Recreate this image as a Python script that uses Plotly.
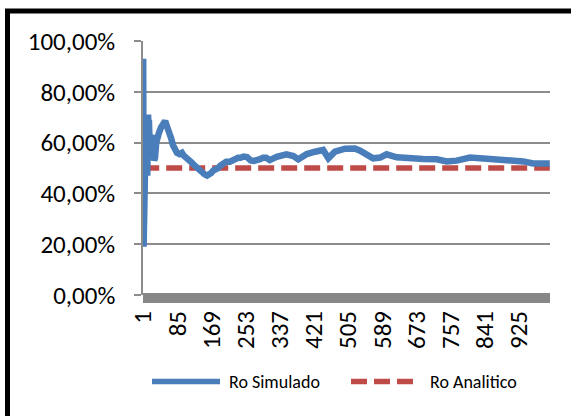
import plotly.graph_objects as go

# Simulated rho: running estimate sampled at selected iterations
sim_idx = [1, 2, 3, 4, 5, 6, 7, 8, 9, 10, 11, 12, 13, 14, 15, 16, 17, 18, 20, 22,
           24, 26, 28, 30, 33, 36, 40, 45, 50, 55, 58, 62, 66, 70, 74, 78, 84, 90,
           96, 100, 104, 111, 116, 121, 127, 133, 140, 146, 152, 158, 163, 168,
           173, 180, 185, 191, 197, 205, 214, 220, 227, 234, 240, 248, 256, 265,
           273, 281, 288, 295, 303, 312, 329, 353, 370, 382, 403, 423, 443, 456,
           472, 497, 521, 534, 550, 566, 583, 599, 624, 656, 689, 722, 747, 771,
           804, 837, 869, 902, 935, 959, 980, 1000]
sim_val = [0.93, 0.19, 0.50, 0.60, 0.45, 0.64, 0.55, 0.70, 0.60, 0.66, 0.47, 0.62,
           0.71, 0.64, 0.69, 0.58, 0.66, 0.54, 0.62, 0.63, 0.60, 0.55, 0.53, 0.54,
           0.60, 0.63, 0.64, 0.66, 0.68, 0.685, 0.67, 0.655, 0.63, 0.615, 0.59,
           0.575, 0.56, 0.555, 0.56, 0.55, 0.545, 0.54, 0.53, 0.52, 0.51, 0.50,
           0.49, 0.48, 0.475, 0.47, 0.472, 0.48, 0.49, 0.495, 0.50, 0.51, 0.52,
           0.525, 0.525, 0.53, 0.54, 0.54, 0.54, 0.545, 0.543, 0.53, 0.528, 0.53,
           0.535, 0.54, 0.54, 0.531, 0.544, 0.554, 0.547, 0.534, 0.555, 0.564,
           0.571, 0.538, 0.564, 0.576, 0.577, 0.568, 0.551, 0.538, 0.541, 0.554,
           0.542, 0.537, 0.535, 0.534, 0.526, 0.529, 0.541, 0.537, 0.535, 0.533,
           0.526, 0.518, 0.518, 0.518]

# Analytic rho (constant)
ana_idx = [1, 1000]
ana_val = [0.50, 0.50]

n_cat = 1000
tick_cats = [1, 85, 169, 253, 337, 421, 505, 589, 673, 757, 841, 925]
y_ticks = [0, 0.2, 0.4, 0.6, 0.8, 1.0]

series_names = ["Ro Simulado", "Ro Analitico"]
blue = "#4a7ebb"
red = "#be4b48"
grid = "#8c8c8c"
font_fam = "Calibri, Carlito, Lato, sans-serif"

fig = go.Figure()
fig.add_trace(go.Scatter(x=ana_idx, y=ana_val, mode="lines", name=series_names[1],
                         line=dict(color=red, width=5.5, dash="16px,7px"),
                         showlegend=False, hoverinfo="skip"))
fig.add_trace(go.Scatter(x=sim_idx, y=sim_val, mode="lines", name=series_names[0],
                         line=dict(color=blue, width=6.5),
                         showlegend=False, hoverinfo="skip"))

W, H = 571, 416
L, R, T, B = 143, 21, 41, 121
pw, ph = W - L - R, H - T - B


def px(xp):
    return (xp - L) / pw


def py(yp):
    return (H - B - yp) / ph


shapes = [
    # thick floor bar under the plot
    dict(type="rect", xref="paper", yref="paper", x0=0, x1=1, y0=py(303), y1=py(293),
         fillcolor="#878787", line=dict(width=0), layer="above"),
    # outer chart frame
    dict(type="rect", xref="paper", yref="paper", x0=px(7.5), x1=px(620),
         y0=py(470), y1=py(11), line=dict(color="black", width=5),
         fillcolor="rgba(0,0,0,0)"),
    # legend samples
    dict(type="line", xref="paper", yref="paper", x0=px(152), x1=px(220),
         y0=py(381.5), y1=py(381.5), line=dict(color=blue, width=5.5)),
    dict(type="line", xref="paper", yref="paper", x0=px(351), x1=px(414),
         y0=py(381.5), y1=py(381.5), line=dict(color=red, width=5.5, dash="16px,7px")),
]

annotations = [
    dict(xref="paper", yref="paper", x=px(227), y=py(381.5), text=series_names[0],
         showarrow=False, xanchor="left", yanchor="middle",
         font=dict(family=font_fam, size=18, color="black")),
    dict(xref="paper", yref="paper", x=px(428), y=py(381.5), text=series_names[1],
         showarrow=False, xanchor="left", yanchor="middle",
         font=dict(family=font_fam, size=18, color="black")),
]

fig.update_layout(
    width=W, height=H,
    margin=dict(l=L, r=R, t=T, b=B),
    paper_bgcolor="white", plot_bgcolor="white",
    separators=", ",
    font=dict(family=font_fam, size=25, color="black"),
    shapes=shapes, annotations=annotations,
    showlegend=False,
)
fig.update_xaxes(
    range=[0.5, n_cat + 0.5], tickmode="array", tickvals=tick_cats,
    ticktext=[str(t) for t in tick_cats], tickangle=-90,
    showgrid=False, zeroline=False, showline=False, ticks="",
    ticklabelstandoff=10,
)
fig.update_yaxes(
    range=[0, 1], tickmode="array", tickvals=y_ticks, tickformat=".2%",
    showgrid=True, gridcolor=grid, gridwidth=1.5, zeroline=False,
    showline=True, linecolor=grid, linewidth=1.5,
    ticks="outside", ticklen=7, tickcolor=grid, tickwidth=1.5,
    ticklabelstandoff=14,
)

fig.write_html("out.html")
